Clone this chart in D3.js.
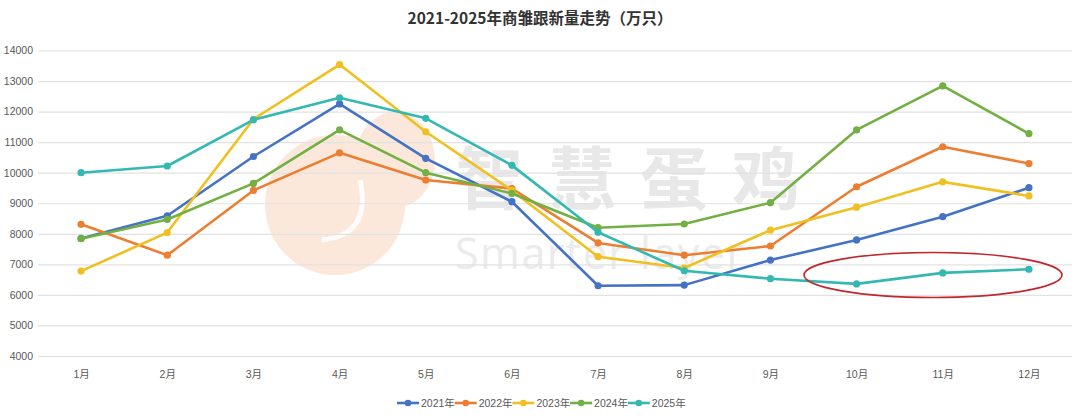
<!DOCTYPE html>
<html><head><meta charset="utf-8">
<script src="https://cdn.jsdelivr.net/npm/d3@7/dist/d3.min.js"></script>
<style>html,body{margin:0;padding:0;background:#fff;}svg{display:block;}</style>
</head><body>
<svg id="chart" width="1080" height="419"></svg>
<script>
const months = ["1月","2月","3月","4月","5月","6月","7月","8月","9月","10月","11月","12月"];
const seriesNames = ["2021年","2022年","2023年","2024年","2025年"];
const v2021 = [7850, 8590, 10530, 12250, 10470, 9050, 6300, 6320, 7140, 7800, 8560, 9510];
const v2022 = [8310, 7300, 9420, 10650, 9760, 9480, 7700, 7300, 7600, 9540, 10850, 10300];
const v2023 = [6780, 8040, 11750, 13540, 11340, 9420, 7250, 6880, 8120, 8870, 9700, 9240];
const v2024 = [7840, 8470, 9650, 11400, 10000, 9320, 8200, 8320, 9020, 11400, 12840, 11280];
const v2025 = [10000, 10220, 11730, 12450, 11780, 10240, 8050, 6790, 6530, 6360, 6720, 6840];
const yTicks = [4000,5000,6000,7000,8000,9000,10000,11000,12000,13000,14000];
const colors = ["#4472c4","#ed7d31","#f0c020","#72b043","#33b9b2"];
const title = "2021-2025年商雏跟新量走势（万只）";

const allValues = [v2021, v2022, v2023, v2024, v2025];
const svg = d3.select("#chart");
const L = 38, R = 1072, T = 50.5, B = 356;

const x = d3.scalePoint().domain(months).range([L, R]).padding(0.5);
const y = d3.scaleLinear().domain([4000, 14000]).range([B, T]);

// watermark
const wm = svg.append("g");
wm.append("circle").attr("cx", 335).attr("cy", 205).attr("r", 70).attr("fill", "#fbe8da");
wm.append("ellipse").attr("cx", 395).attr("cy", 160).attr("rx", 40).attr("ry", 48).attr("fill", "#fbe8da");
wm.append("path").attr("d", "M360,180 Q372,235 322,240").attr("fill", "none").attr("stroke", "#fff").attr("stroke-width", 5).attr("opacity", 0.9);
wm.append("text").attr("x", 456).attr("y", 204).attr("font-family", "Noto Sans CJK SC").attr("font-weight", "bold")
  .attr("font-size", 68).attr("letter-spacing", 24).attr("fill", "#e8e8e8").text("智慧蛋鸡");
wm.append("text").attr("x", 455).attr("y", 269).attr("font-family", "Open Sans, Noto Sans").attr("font-size", 43)
  .attr("fill", "#ebebeb").attr("letter-spacing", 1.5).text("Smarter layer");

// grid + y labels
const yAxis = d3.axisLeft(y).tickValues(yTicks).tickSize(-(R - L)).tickFormat(d3.format("d")).tickPadding(5);
const ga = svg.append("g").attr("transform", `translate(${L},0)`).call(yAxis);
ga.select(".domain").remove();
ga.selectAll(".tick line").attr("stroke", "#e2e2e2").attr("stroke-width", 1.2);
ga.selectAll(".tick text").attr("font-family", "Liberation Sans, Arial").attr("font-size", 10.5).attr("fill", "#595959");

// x labels
const xAxis = d3.axisBottom(x).tickSize(0).tickPadding(10);
const gx = svg.append("g").attr("transform", `translate(0,${B + 5})`).call(xAxis);
gx.select(".domain").remove();
gx.selectAll(".tick text").attr("font-family", "Liberation Sans, Noto Sans CJK SC").attr("font-size", 10.5).attr("fill", "#595959");

// lines
const line = d3.line().x((d, i) => x(months[i])).y(d => y(d));
allValues.forEach((vals, si) => {
  const g = svg.append("g");
  g.append("path").datum(vals).attr("d", line).attr("fill", "none")
    .attr("stroke", colors[si]).attr("stroke-width", 2.6).attr("stroke-linejoin", "round");
  g.selectAll("circle").data(vals).join("circle")
    .attr("cx", (d, i) => x(months[i])).attr("cy", d => y(d)).attr("r", 3.6).attr("fill", colors[si]);
});

// red ellipse annotation
svg.append("ellipse").attr("cx", 933).attr("cy", 275).attr("rx", 129).attr("ry", 22.5)
  .attr("fill", "none").attr("stroke", "#c0282d").attr("stroke-width", 1.6);

// title
svg.append("text").attr("x", 540).attr("y", 24).attr("text-anchor", "middle")
  .attr("font-family", "Noto Sans CJK SC").attr("font-weight", "bold").attr("font-size", 15.5)
  .attr("fill", "#333").text(title);

// legend
const lg = svg.append("g");
const itemW = 57.7, lx0 = 397, ly = 403;
seriesNames.forEach((n, i) => {
  const gx0 = lx0 + i * itemW;
  lg.append("line").attr("x1", gx0).attr("x2", gx0 + 22).attr("y1", ly).attr("y2", ly)
    .attr("stroke", colors[i]).attr("stroke-width", 2.6);
  lg.append("circle").attr("cx", gx0 + 11).attr("cy", ly).attr("r", 3.3).attr("fill", colors[i]);
  lg.append("text").attr("x", gx0 + 24).attr("y", ly + 3.8).attr("font-family", "Liberation Sans, Noto Sans CJK SC")
    .attr("font-size", 10.5).attr("fill", "#595959").text(n);
});
</script>
</body></html>
